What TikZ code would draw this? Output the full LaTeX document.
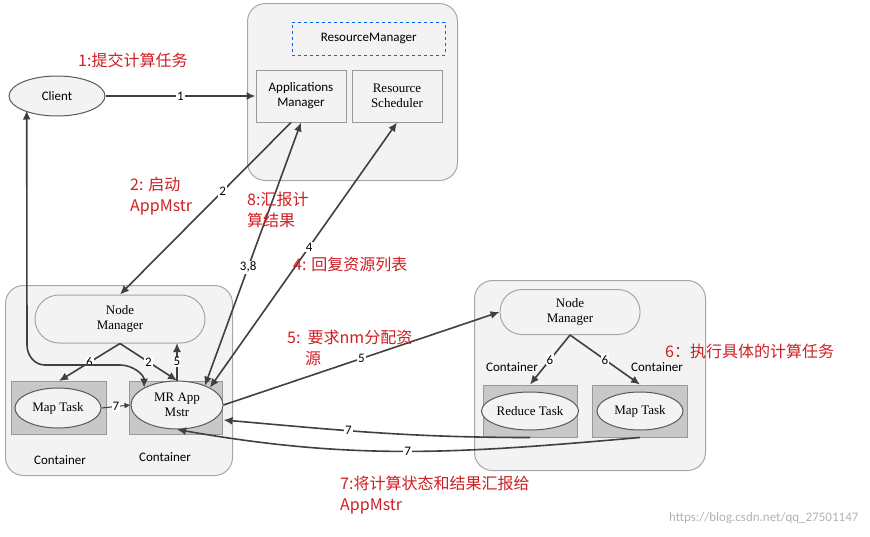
\documentclass[tikz,border=0pt]{standalone}
\usepackage{fontspec}
\setmainfont{Carlito}
\newfontfamily\serifx{Liberation Serif}
\newfontfamily\cjk{Noto Sans CJK SC}
\usetikzlibrary{shapes.geometric,arrows.meta}
\definecolor{rd}{RGB}{205,30,35}
\definecolor{box}{RGB}{243,243,243}
\definecolor{gbox}{RGB}{200,200,200}
\tikzset{
  x=1pt,y=-1pt,
  fs/.style={font=\fontsize{13}{15}\selectfont},
  sfs/.style={font=\serifx\fontsize{13}{15}\selectfont},
  big/.style={draw=gray!70,fill=box,rounded corners=18pt,line width=1pt},
  rect/.style={draw=gray!80,fill=gbox,line width=1pt},
  wrect/.style={draw=gray!80,fill=box,line width=1pt,fs,align=center},
  ell/.style={ellipse,draw=gray!70!black,fill=box,line width=1pt,align=center,sfs,inner sep=1pt},
  arr/.style={-{Latex[length=9pt,width=8pt]},line width=1.6pt,draw=black!75},
  lab/.style={fill=white,inner sep=1pt,fs},
  red/.style={text=rd,font=\cjk\fontsize{16}{21}\selectfont,align=left,anchor=north west,inner sep=0pt}
}
\begin{document}
\begin{tikzpicture}
\useasboundingbox (0,0) rectangle (870,536);
% resource manager
\node[big,minimum width=210,minimum height=177,anchor=north west] (rm) at (247,3) {};
\node[draw=blue!60!cyan,dashed,minimum width=153,minimum height=33,anchor=north west,fs] (rml) at (292,22) {ResourceManager};
\node[wrect,minimum width=90,minimum height=52] (am) at (301,96) {Applications\\Manager};
\node[wrect,minimum width=90,minimum height=52,sfs] (rs) at (397,96) {Resource\\Scheduler};
\node[ell,minimum width=96,minimum height=40,fs] (client) at (57,96) {Client};
% left container
\node[big,minimum width=227,minimum height=190,anchor=north west] (lc) at (5,285) {};
\node[draw=gray!70,fill=box,rounded corners=24pt,minimum width=170,minimum height=48,sfs,align=center,line width=1pt] (nm1) at (120,319) {Node\\Manager};
\node[rect,minimum width=95,minimum height=53] (mtc) at (59,408) {};
\node[ell,minimum width=86,minimum height=40] (mt1) at (58,408) {Map Task};
\node[rect,minimum width=93,minimum height=53] (mrc) at (176,408) {};
\node[ell,minimum width=92,minimum height=48] (mr) at (177,405) {MR App\\Mstr};
\node[fs] (c1) at (60,460) {Container};
\node[fs] (c2) at (165,457) {Container};
% right container
\node[big,minimum width=231,minimum height=190,anchor=north west] (rc) at (474,280) {};
\node[draw=gray!70,fill=box,rounded corners=22pt,minimum width=140,minimum height=45,sfs,align=center,line width=1pt] (nm2) at (570,312) {Node\\Manager};
\node[rect,minimum width=94,minimum height=52] (rtc) at (530,411) {};
\node[ell,minimum width=86,minimum height=38] (rt) at (530,411) {Reduce Task};
\node[rect,minimum width=95,minimum height=52] (mt2c) at (640,411) {};
\node[ell,minimum width=86,minimum height=38] (mt2) at (640,411) {Map Task};
\node[fs] (c3) at (512,367) {Container};
\node[fs] (c4) at (657,367) {Container};
% arrows
\draw[arr] (client) -- node[lab]{1} (am);
\draw[arr] (am.south) ++(-10,0) coordinate (a2) (a2) -- node[lab,pos=0.4]{2} (nm1.north);
\draw[arr,{Latex[length=9pt,width=8pt]}-{Latex[length=9pt,width=8pt]}] (mr.north east) ++(-5,-2) coordinate (m38) (m38) -- node[lab,pos=0.45]{3,8} (am.south);
\draw[arr,{Latex[length=9pt,width=8pt]}-{Latex[length=9pt,width=8pt]}] (mr.north east) coordinate (m4) (m4) -- node[lab,pos=0.53]{4} (rs.south);
\draw[arr] (mr.east) -- node[lab,pos=0.5]{5} (nm2.west);
\draw[arr] (nm1.south) -- node[lab]{6} (mtc.north);
\draw[arr] (nm1.south) -- node[lab]{2} (mr.north);
\draw[arr] (mr.north) coordinate (m5) (m5) -- node[lab]{5} (177,343) coordinate (n5);
\draw[arr,line width=1pt,-{Latex[length=6pt,width=6pt]}] (mt1.east) -- node[lab]{7} (mr.west);
\draw[arr] (nm2.south) -- node[lab]{6} (rtc.north);
\draw[arr] (nm2.south) -- node[lab]{6} (mt2c.north);
\draw[arr,{Latex[length=9pt,width=8pt]}-{Latex[length=9pt,width=8pt]}] (client.south west) ++(4,0) coordinate (cs) (cs) -- (27,345) to[out=-90,in=180] (45,365) -- (120,365) to[out=0,in=90] (mr.north west);
\draw[arr] (rtc.south) to[out=180,in=-5] node[lab,pos=0.6]{7} (mr.east |- 0,420);
\draw[arr] (mt2c.south) to[out=185,in=-10] node[lab,pos=0.5]{7} (mr.south);
% red texts
\node[red] (t1) at (78,53) {1:提交计算任务};
\node[red] (t2) at (130,177) {2: 启动\\AppMstr};
\node[red] (t8) at (247,192) {8:汇报计\\算结果};
\node[red] (t4) at (293,257) {4: 回复资源列表};
\node[red] (t5) at (287,330) {5:\ \ 要求nm分配资\\\ \ \ \ \ 源};
\node[red] (t6) at (665,344) {6：执行具体的计算任务};
\node[red] (t7) at (340,476) {7:将计算状态和结果汇报给\\AppMstr};
\node[text=gray!60,fs,anchor=east] (wm) at (862,518) {https://blog.csdn.net/qq\_27501147};
\end{tikzpicture}
\end{document}
